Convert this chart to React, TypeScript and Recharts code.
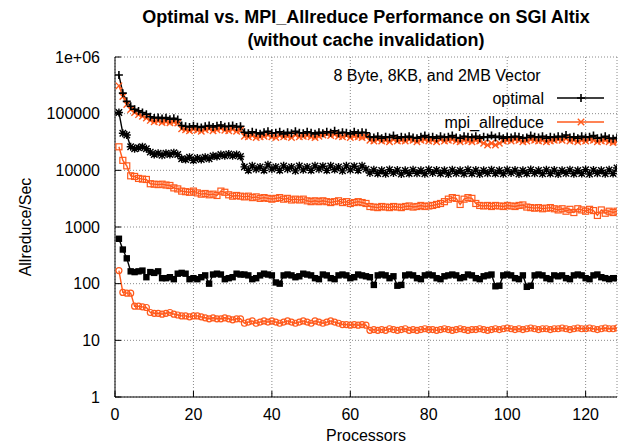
import { LineChart, Line, XAxis, YAxis, CartesianGrid, Legend } from 'recharts'

// processor counts on the x axis
const processors = [
  1, 2, 3, 4, 5, 6, 7, 8, 9, 10, 11, 12, 13, 14, 15, 16,
  17, 18, 19, 20, 21, 22, 23, 24, 25, 26, 27, 28, 29, 30, 31, 32,
  33, 34, 35, 36, 37, 38, 39, 40, 41, 42, 43, 44, 45, 46, 47, 48,
  49, 50, 51, 52, 53, 54, 55, 56, 57, 58, 59, 60, 61, 62, 63, 64,
  65, 66, 67, 68, 69, 70, 71, 72, 73, 74, 75, 76, 77, 78, 79, 80,
  81, 82, 83, 84, 85, 86, 87, 88, 89, 90, 91, 92, 93, 94, 95, 96,
  97, 98, 99, 100, 101, 102, 103, 104, 105, 106, 107, 108, 109, 110, 111, 112,
  113, 114, 115, 116, 117, 118, 119, 120, 121, 122, 123, 124, 125, 126, 127, 128,
]

// 8 Byte vector
const optimal8B = [
  480000, 230000, 165000, 135000, 120000, 112000, 105000, 98000, 88000, 84000, 86000, 82000, 85000, 80000, 83000, 79000,
  62000, 60000, 58000, 61000, 59000, 57000, 60000, 62000, 58000, 61000, 63000, 59000, 60000, 62000, 58000, 60000,
  47000, 45000, 48000, 46000, 44000, 47000, 49000, 45000, 46000, 48000, 44000, 47000, 45000, 49000, 46000, 45000,
  48000, 46000, 44000, 47000, 45000, 48000, 46000, 50000, 45000, 47000, 46000, 44000, 48000, 45000, 47000, 46000,
  39000, 38000, 40000, 37000, 39000, 38000, 41000, 37000, 39000, 38000, 40000, 38000, 37000, 39000, 41000, 38000,
  39000, 37000, 40000, 38000, 39000, 41000, 38000, 37000, 40000, 39000, 38000, 40000, 37000, 39000, 38000, 41000,
  38000, 40000, 37000, 39000, 38000, 40000, 39000, 37000, 38000, 41000, 39000, 38000, 40000, 37000, 39000, 38000,
  40000, 39000, 42000, 38000, 39000, 37000, 40000, 38000, 39000, 41000, 37000, 38000, 40000, 37000, 36000, 38000,
]
const mpi8B = [
  310000, 200000, 145000, 118000, 105000, 96000, 90000, 84000, 76000, 72000, 74000, 70000, 72000, 69000, 71000, 68000,
  54000, 52000, 50000, 53000, 51000, 49000, 52000, 54000, 50000, 52000, 55000, 51000, 50000, 53000, 49000, 51000,
  40000, 39000, 41000, 38000, 39000, 40000, 42000, 39000, 38000, 41000, 39000, 40000, 38000, 42000, 39000, 40000,
  41000, 39000, 38000, 40000, 42000, 44000, 41000, 43000, 40000, 39000, 41000, 38000, 40000, 39000, 38000, 39000,
  34000, 33000, 35000, 33000, 34000, 32000, 35000, 33000, 34000, 33000, 35000, 34000, 32000, 34000, 35000, 33000,
  34000, 32000, 35000, 33000, 34000, 35000, 33000, 32000, 34000, 33000, 32000, 34000, 33000, 30000, 28000, 30000,
  28000, 30000, 33000, 34000, 33000, 35000, 34000, 32000, 33000, 35000, 34000, 33000, 34000, 32000, 33000, 34000,
  35000, 34000, 36000, 33000, 34000, 32000, 34000, 33000, 35000, 34000, 32000, 33000, 34000, 32000, 31000, 32000,
]

// 8KB vector
const optimal8KB = [
  105000, 45000, 42000, 26000, 24000, 25000, 26000, 24000, 21000, 19000, 20000, 18500, 20000, 19000, 20500, 19000,
  16000, 15500, 17000, 15000, 16500, 15500, 17000, 16000, 18000, 17500, 19000, 18000, 19500, 18000, 19000, 17500,
  11500, 10000, 12000, 10500, 11500, 10000, 12500, 10500, 11500, 10000, 12000, 10500, 11500, 9800, 12000, 10200,
  11500, 10000, 12000, 10500, 11800, 10000, 12000, 10300, 11500, 9800, 12000, 10200, 11800, 10000, 12000, 10500,
  9000, 10200, 8800, 10000, 8700, 10300, 9000, 10100, 8600, 10000, 8800, 10200, 8900, 10000, 8700, 10300,
  9000, 10100, 8800, 10000, 8600, 10200, 8900, 10000, 8700, 10300, 8800, 10100, 8600, 10000, 8900, 10200,
  8800, 10000, 8700, 10200, 9000, 10100, 8600, 10000, 8800, 10300, 8900, 10000, 8700, 10200, 8800, 10100,
  8600, 10000, 8900, 10200, 8700, 10000, 8800, 10300, 8600, 10100, 8900, 10000, 8700, 10200, 8800, 11000,
]
const mpi8KB = [
  26000, 15000, 12000, 8000, 7800, 7200, 7000, 6900, 5800, 5700, 5600, 5700, 5500, 5400, 4900, 4700,
  4300, 4200, 4100, 4300, 4000, 3800, 3900, 3700, 3800, 3600, 4300, 4100, 3700, 3500, 3600, 3500,
  3400, 3500, 3300, 3400, 3200, 3300, 3200, 3100, 3200, 3300, 3100, 3200, 3000, 3100, 3000, 3100,
  2900, 2800, 2900, 2800, 2900, 2800, 2700, 2800, 2900, 2700, 2800, 2600, 2700, 2800, 2700, 2600,
  2300, 2250, 2200, 2300, 2250, 2200, 2300, 2250, 2200, 2300, 2350, 2250, 2300, 2400, 2300, 2350,
  2400, 2500, 2600, 2800, 3100, 3300, 3200, 2500, 3100, 3300, 3200, 2600, 2400, 2350, 2400, 2300,
  2400, 2350, 2300, 2400, 2350, 2300, 2400, 2450, 2250, 2200, 2150, 2200, 2100, 2150, 2200, 2100,
  2000, 2100, 1900, 2050, 1800, 2100, 2000, 1900, 2050, 1950, 1600, 2000, 1750, 1900, 1800, 1900,
]

// 2MB vector
const optimal2MB = [
  620, 400, 280, 165, 160, 165, 170, 130, 160, 155, 165, 125, 125, 130, 120, 150,
  155, 150, 120, 125, 120, 130, 140, 100, 145, 150, 145, 120, 125, 130, 150, 145,
  145, 140, 120, 125, 140, 150, 145, 140, 105, 100, 140, 145, 140, 130, 135, 150,
  145, 140, 125, 120, 145, 140, 125, 120, 140, 145, 140, 125, 130, 145, 140, 135,
  130, 95, 140, 145, 140, 125, 135, 92, 95, 140, 145, 140, 125, 120, 140, 145,
  140, 125, 120, 135, 140, 145, 140, 125, 130, 145, 140, 125, 120, 135, 140, 145,
  90, 92, 140, 145, 140, 125, 120, 140, 88, 92, 140, 145, 140, 125, 120, 140,
  135, 140, 125, 120, 140, 145, 140, 125, 120, 140, 145, 130, 125, 120, 125, 125,
]
const mpi2MB = [
  170, 70, 68, 68, 40, 40, 39, 38, 31, 30, 30, 29, 30, 31, 29, 28,
  27, 27, 26, 27, 27, 26, 25, 24, 25, 24, 24, 25, 24, 23, 24, 24,
  20, 21, 22, 20, 21, 22, 21, 22, 21, 20, 21, 22, 21, 20, 21, 22,
  21, 20, 22, 21, 20, 21, 22, 21, 20, 19, 19, 18.5, 19, 18.5, 19, 18.5,
  15, 15.5, 15, 15.5, 15, 16, 15.5, 15, 15.5, 16, 15, 15.5, 15, 15.5, 16, 15.5,
  15.5, 15, 15.5, 16, 15.5, 15, 15.5, 16, 15.5, 15, 15.5, 15.5, 16, 15.5, 15, 15.5,
  16, 15.5, 16, 16.5, 16, 15.5, 16, 15.5, 16, 16.5, 16, 15.5, 16, 16, 15.5, 16,
  16, 16.5, 16, 15.5, 16, 16.5, 16, 16, 16.5, 16, 15.5, 16, 16.5, 16, 16, 16.5,
]

const xTicks = [0, 20, 40, 60, 80, 100, 120]
const yTicks = [1, 10, 100, 1000, 10000, 100000, 1000000]
const yMinorTicks = yTicks.slice(0, -1).flatMap((d) => [2, 3, 4, 5, 6, 7, 8, 9].map((m) => m * d))

const rows = processors.map((p, i) => ({
  p,
  optimal8B: optimal8B[i],
  mpi8B: mpi8B[i],
  optimal8KB: optimal8KB[i],
  mpi8KB: mpi8KB[i],
  optimal2MB: optimal2MB[i],
  mpi2MB: mpi2MB[i],
}))

const FONT = '"Liberation Sans", Arial, Helvetica, sans-serif'
const BLACK = '#000000'
const ORANGE = '#ff5a1c'

type Shape = 'plus' | 'cross' | 'star' | 'box' | 'openBox' | 'circle'

function marker(shape: Shape, color: string, cx: number, cy: number, key?: number | string) {
  const sw = 1.4
  switch (shape) {
    case 'plus':
      return <path key={key} d={`M${cx - 4},${cy}h8M${cx},${cy - 4}v8`} stroke={color} strokeWidth={1.6} fill="none" />
    case 'cross':
      return <path key={key} d={`M${cx - 3.2},${cy - 3.2}l6.4,6.4M${cx - 3.2},${cy + 3.2}l6.4,-6.4`} stroke={color} strokeWidth={sw} fill="none" />
    case 'star':
      return (
        <path
          key={key}
          d={`M${cx - 4},${cy}h8M${cx},${cy - 4}v8M${cx - 3.2},${cy - 3.2}l6.4,6.4M${cx - 3.2},${cy + 3.2}l6.4,-6.4`}
          stroke={color}
          strokeWidth={sw}
          fill="none"
        />
      )
    case 'box':
      return <rect key={key} x={cx - 3.2} y={cy - 3.2} width={6.4} height={6.4} fill={color} />
    case 'openBox':
      return <rect key={key} x={cx - 3} y={cy - 3} width={6} height={6} fill="none" stroke={color} strokeWidth={1.2} />
    default:
      return <circle key={key} cx={cx} cy={cy} r={3} fill="none" stroke={color} strokeWidth={1.2} />
  }
}

const dotOf = (shape: Shape, color: string) => (props: any) => {
  const { cx, cy, index } = props
  if (cx == null || cy == null) return <g key={index} />
  return marker(shape, color, cx, cy, index)
}

// drawn in this order: each mpi_allreduce curve first, so the optimal markers sit on top
const series: { key: string; name: string; color: string; shape: Shape; legend: boolean }[] = [
  { key: 'mpi8B', name: 'mpi_allreduce', color: ORANGE, shape: 'cross', legend: true },
  { key: 'optimal8B', name: 'optimal', color: BLACK, shape: 'plus', legend: true },
  { key: 'mpi8KB', name: 'mpi_allreduce 8KB', color: ORANGE, shape: 'openBox', legend: false },
  { key: 'optimal8KB', name: 'optimal 8KB', color: BLACK, shape: 'star', legend: false },
  { key: 'mpi2MB', name: 'mpi_allreduce 2MB', color: ORANGE, shape: 'circle', legend: false },
  { key: 'optimal2MB', name: 'optimal 2MB', color: BLACK, shape: 'box', legend: false },
]
const legendOrder = ['optimal8B', 'mpi8B']

const formatY = (v: number) => (v === 1000000 ? '1e+06' : String(v))

function YTitle(props: any) {
  const vb = props.viewBox ?? { y: 0, height: 0 }
  const cx = 25
  const cy = vb.y + vb.height / 2
  return (
    <text x={cx} y={cy} transform={`rotate(-90 ${cx} ${cy})`} textAnchor="middle" dominantBaseline="central" fontFamily={FONT} fontSize={16} fill="#000">
      Allreduce/Sec
    </text>
  )
}

function XTitle(props: any) {
  const vb = props.viewBox ?? { x: 0, width: 0, y: 0 }
  return (
    <text x={vb.x + vb.width / 2} y={vb.y + 38} textAnchor="middle" dominantBaseline="central" fontFamily={FONT} fontSize={16} fill="#000">
      Processors
    </text>
  )
}

function LegendBox() {
  const entries = legendOrder.map((k) => series.find((s) => s.key === k)!)
  return (
    <svg width={622} height={446} style={{ position: 'absolute', left: 0, top: 0, pointerEvents: 'none' }}>
      <text x={437} y={75} textAnchor="middle" dominantBaseline="central" fontFamily={FONT} fontSize={16} fill="#000">
        8 Byte, 8KB, and 2MB Vector
      </text>
      {entries.map((s, i) => {
        const y = 98 + i * 24
        return (
          <g key={s.key}>
            <text x={544} y={y} textAnchor="end" dominantBaseline="central" fontFamily={FONT} fontSize={16} fill="#000">
              {s.name}
            </text>
            <line x1={557} x2={604} y1={y} y2={y} stroke={s.color} strokeWidth={1.5} />
            {marker(s.shape, s.color, 581, y)}
          </g>
        )
      })}
    </svg>
  )
}

export default function App() {
  return (
    <div style={{ position: 'absolute', left: 0, top: 0, width: 622, height: 446, background: '#fff' }}>
      <div
        style={{
          position: 'absolute',
          left: 0,
          top: 6,
          width: 732,
          textAlign: 'center',
          fontFamily: FONT,
          fontWeight: 'bold',
          fontSize: 18,
          lineHeight: '23px',
          color: '#000',
        }}
      >
        <div>Optimal vs. MPI_Allreduce Performance on SGI Altix</div>
        <div>(without cache invalidation)</div>
      </div>
      <LineChart width={622} height={446} data={rows} margin={{ top: 57, right: 5, bottom: 0, left: 0 }}>
        <CartesianGrid xAxisId="xmain" yAxisId="ymain" stroke="#8a8a8a" strokeDasharray="1 2" />
        <XAxis
          xAxisId="xmain"
          dataKey="p"
          type="number"
          domain={[0, 128]}
          ticks={xTicks}
          interval={0}
          allowDataOverflow
          height={49}
          tickSize={-6}
          tickMargin={18}
          axisLine={{ stroke: BLACK }}
          tickLine={{ stroke: BLACK }}
          tick={{ fill: '#000', fontFamily: FONT, fontSize: 16 }}
          label={<XTitle />}
        />
        <XAxis
          xAxisId="xtop"
          orientation="top"
          type="number"
          domain={[0, 128]}
          ticks={xTicks}
          interval={0}
          allowDataOverflow
          height={0}
          tickSize={-6}
          tick={false}
          axisLine={{ stroke: BLACK }}
          tickLine={{ stroke: BLACK }}
        />
        <YAxis
          yAxisId="yminor"
          orientation="left"
          type="number"
          scale="log"
          domain={[1, 1000000]}
          ticks={yMinorTicks}
          interval={0}
          allowDataOverflow
          width={0}
          tickSize={-3}
          tick={false}
          axisLine={false}
          tickLine={{ stroke: BLACK }}
        />
        <YAxis
          yAxisId="ymain"
          orientation="left"
          type="number"
          scale="log"
          domain={[1, 1000000]}
          ticks={yTicks}
          interval={0}
          allowDataOverflow
          width={115}
          tickSize={-6}
          tickMargin={21}
          tickFormatter={formatY}
          axisLine={{ stroke: BLACK }}
          tickLine={{ stroke: BLACK }}
          tick={{ fill: '#000', fontFamily: FONT, fontSize: 16 }}
          label={<YTitle />}
        />
        <YAxis
          yAxisId="rmajor"
          orientation="right"
          type="number"
          scale="log"
          domain={[1, 1000000]}
          ticks={yTicks}
          interval={0}
          allowDataOverflow
          width={0}
          tickSize={-6}
          tick={false}
          axisLine={{ stroke: BLACK }}
          tickLine={{ stroke: BLACK }}
        />
        <YAxis
          yAxisId="rminor"
          orientation="right"
          type="number"
          scale="log"
          domain={[1, 1000000]}
          ticks={yMinorTicks}
          interval={0}
          allowDataOverflow
          width={0}
          tickSize={-3}
          tick={false}
          axisLine={false}
          tickLine={{ stroke: BLACK }}
        />
        <Legend layout="horizontal" verticalAlign="middle" align="center" wrapperStyle={{ left: 0, top: 0, width: 622, height: 446 }} content={<LegendBox />} />
        {series.map((s) => (
          <Line
            key={s.key}
            xAxisId="xmain"
            yAxisId="ymain"
            type="linear"
            dataKey={s.key}
            name={s.name}
            stroke={s.color}
            strokeWidth={1.4}
            dot={dotOf(s.shape, s.color)}
            activeDot={false}
            legendType={s.legend ? 'line' : 'none'}
            isAnimationActive={false}
          />
        ))}
      </LineChart>
    </div>
  )
}
